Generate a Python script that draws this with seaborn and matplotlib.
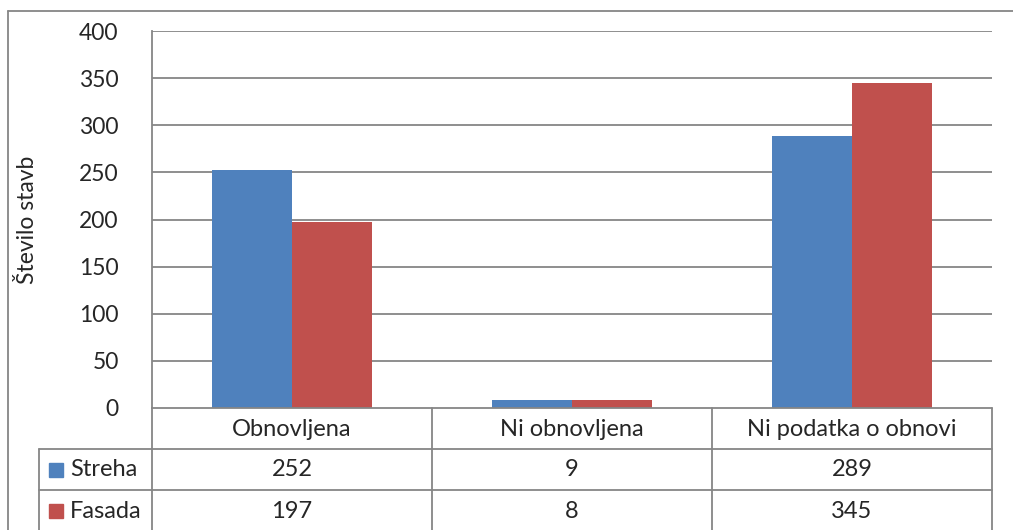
import pandas as pd
import numpy as np
import seaborn as sns
import matplotlib.pyplot as plt
from matplotlib.lines import Line2D
from matplotlib import transforms

# data
categories = ['Obnovljena', 'Ni obnovljena', 'Ni podatka o obnovi']
series = ['Streha', 'Fasada']
streha = [252, 9, 289]
fasada = [197, 8, 345]
colors = ['#4F81BD', '#C0504D']
yticks = [0, 50, 100, 150, 200, 250, 300, 350, 400]

df = pd.DataFrame({
    'kategorija': categories * 2,
    'serija': ['Streha'] * 3 + ['Fasada'] * 3,
    'stevilo': streha + fasada,
})

sns.set_style('white')
plt.rcParams['font.family'] = ['Lato', 'DejaVu Sans']

W, H = 1013, 530
fig = plt.figure(figsize=(W / 100, H / 100), dpi=100)

def px(x, y):
    # pixel (top-left origin) -> figure fraction
    return x / W, 1 - y / H

left, top, right, bottom = 152, 31, 992, 408
ax = fig.add_axes([left / W, 1 - bottom / H, (right - left) / W, (bottom - top) / H])

sns.barplot(data=df, x='kategorija', y='stevilo', hue='serija', order=categories,
            hue_order=series, palette=colors, saturation=1, width=0.5714,
            legend=False, ax=ax, edgecolor='none', linewidth=0)

ax.set_ylim(0, 400)
ax.set_xlim(-0.5, 2.5)
ax.set_yticks(yticks)
ax.set_yticklabels([str(t) for t in yticks], fontsize=16.5)
ax.tick_params(axis='y', length=0, pad=24)
ax.set_xticks([])
ax.set_xlabel('')
ax.set_ylabel('')
for t in yticks[1:]:
    ax.axhline(t, color='#868686', linewidth=1.3, zorder=0)
for s in ['top', 'right', 'bottom']:
    ax.spines[s].set_visible(False)
ax.spines['left'].set_color('#868686')
ax.spines['left'].set_linewidth(1.3)

fig.text(27 / W, 1 - 220 / H, 'Število stavb', rotation=90, ha='center', va='center', fontsize=16.5)

# data table below the axis
line_kw = dict(color='#868686', linewidth=1.3)

def hline(y, x0, x1):
    (a, b), (c, d) = px(x0, y), px(x1, y)
    fig.add_artist(Line2D([a, c], [b, d], **line_kw))

def vline(x, y0, y1):
    (a, b), (c, d) = px(x, y0), px(x, y1)
    fig.add_artist(Line2D([a, c], [b, d], **line_kw))

hline(bottom, left, right)
hline(449, 39, right)
hline(490, 39, right)
for x in [left, 432, 712, right]:
    vline(x, bottom, H)
vline(39, 449, H)

# outer chart frame
hline(11, 8, W)
vline(8, 11, H)

fs = 17
tr = transforms.blended_transform_factory(ax.transData, fig.transFigure)
for i, cat in enumerate(categories):
    ax.text(i, px(0, 429)[1], cat, transform=tr, ha='center', va='center', fontsize=fs)
    ax.text(i, px(0, 470)[1], str(streha[i]), transform=tr, ha='center', va='center', fontsize=fs)
    ax.text(i, px(0, 511)[1], str(fasada[i]), transform=tr, ha='center', va='center', fontsize=fs)

for name, col, yc in zip(series, colors, [470, 511]):
    fig.patches.append(plt.Rectangle(px(49, yc + 7), 14 / W, 14 / H, color=col,
                                     transform=fig.transFigure, figure=fig))
    fig.text(70 / W, px(0, yc)[1], name, ha='left', va='center', fontsize=fs)

plt.savefig('out.png', dpi=100)
